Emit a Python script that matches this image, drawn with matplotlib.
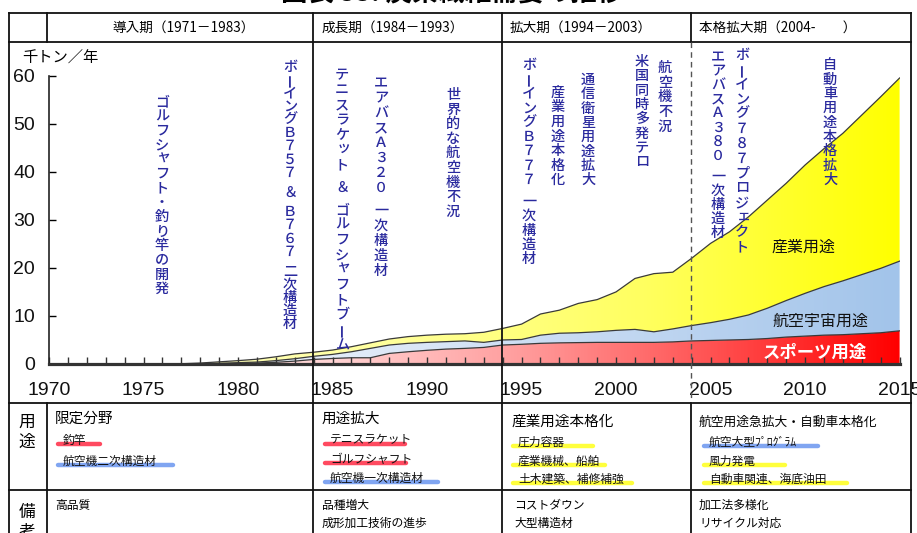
import numpy as np
import matplotlib
matplotlib.use("Agg")
import matplotlib.pyplot as plt
from matplotlib.colors import LinearSegmentedColormap
from matplotlib.lines import Line2D

plt.rcParams['font.family'] = ['Noto Sans CJK JP', 'DejaVu Sans']

# ---- data (thousand tonnes per year) ----
years = list(range(1971, 2016))
sports = [0, 0, 0, 0, 0, 0, 0,
          0.02, 0.05, 0.1, 0.2, 0.35, 0.6, 0.95,
          1.15, 1.3, 1.3, 2.2, 2.55, 2.85, 3.1, 3.25, 3.45, 3.95,
          4.1, 4.3, 4.4, 4.45, 4.5, 4.5, 4.5, 4.5, 4.6, 4.8,
          4.9, 5.0, 5.1, 5.3, 5.6, 5.8, 6.0, 6.1, 6.3, 6.5, 6.9]
aerospace = [0, 0, 0, 0, 0, 0, 0,
             0.05, 0.1, 0.18, 0.2, 0.35, 0.5, 0.65,
             0.85, 1.25, 1.95, 1.75, 1.75, 1.65, 1.55, 1.55, 1.05, 1.05,
             1.0, 1.7, 2.0, 2.05, 2.2, 2.5, 2.7, 2.2, 2.7, 3.2,
             3.7, 4.3, 5.1, 6.3, 7.6, 8.9, 10.1, 11.2, 12.3, 13.4, 14.5]
industrial = [0, 0, 0, 0, 0, 0, 0.05,
              0.13, 0.3, 0.42, 0.6, 0.8, 1.0, 0.85,
              0.9, 1.05, 1.15, 1.25, 1.4, 1.5, 1.55, 1.5, 2.1, 2.4,
              3.2, 4.4, 4.8, 6.1, 6.7, 8.0, 10.6, 12.1, 11.8, 14.0,
              16.5, 18.2, 20.4, 22.5, 24.4, 26.7, 28.7, 30.7, 33.2, 35.7, 38.1]

xticks = [1970, 1975, 1980, 1985, 1990, 1995, 2000, 2005, 2010, 2015]
yticks = [0, 10, 20, 30, 40, 50, 60]

periods = ["導入期（1971－1983）", "成長期（1984－1993）",
           "拡大期（1994－2003）", "本格拡大期（2004-　　）"]

W, H = 917, 533
fig = plt.figure(figsize=(W / 100, H / 100), dpi=100)
fig.patch.set_facecolor('white')


def fx(x):
    return x / W


def fy(y):
    return 1 - y / H


# ---- chart ----
x0, x1 = 49, 899.6
ytop, ybot = 75.6, 364
ax = fig.add_axes([fx(x0), fy(ybot), fx(x1) - fx(x0), fy(ytop) - fy(ybot)])
ax.set_xlim(1970, 2015)
ax.set_ylim(0, 60)

polys = ax.stackplot(years, sports, aerospace, industrial,
                     colors=['none', 'none', 'none'], linewidth=0)

grads = [
    [(0, '#fff0f0'), (0.33, '#ffd4d4'), (0.55, '#ff9e9e'), (0.78, '#ff5252'), (1, '#ff0000')],
    [(0, '#f3f7fd'), (0.33, '#e4edf9'), (0.6, '#cadcf3'), (1, '#a2c4ea')],
    [(0, '#ffffd0'), (0.35, '#ffffa4'), (0.7, '#ffff60'), (1, '#ffff00')],
]
gx = np.linspace(0, 1, 512).reshape(1, -1)
for poly, stops in zip(polys, grads):
    cmap = LinearSegmentedColormap.from_list('g', stops)
    im = ax.imshow(gx, cmap=cmap, extent=[1970, 2015, 0, 60], aspect='auto',
                   origin='lower', zorder=1, interpolation='bilinear')
    im.set_clip_path(poly.get_paths()[0], transform=ax.transData)

cum1 = np.array(sports)
cum2 = cum1 + np.array(aerospace)
cum3 = cum2 + np.array(industrial)
for c in (cum1, cum2, cum3):
    ax.plot(years, c, color='#3a3a3a', lw=0.9, zorder=3)

for s in ('top', 'right'):
    ax.spines[s].set_visible(False)
ax.spines['bottom'].set_linewidth(2.3)
ax.spines['bottom'].set_color('#333333')
ax.spines['left'].set_linewidth(1.2)
ax.spines['left'].set_color('#222222')
ax.spines['bottom'].set_zorder(4)

ax.set_xticks(xticks)
ax.set_xticks(range(1970, 2016), minor=True)
ax.set_yticks(yticks)
ax.tick_params(axis='x', which='both', direction='in', length=5, width=1,
               color='#333333', pad=13)
ax.tick_params(axis='y', direction='in', length=5, width=1, pad=10)
for lab in ax.get_xticklabels() + ax.get_yticklabels():
    lab.set_fontfamily(['Liberation Sans', 'DejaVu Sans'])
    lab.set_fontsize(14)
    lab.set_color('#111111')

# unit label
fig.text(fx(22), fy(58), "千トン／年", fontsize=11, ha='left', va='center')

# series labels inside the areas
fig.text(fx(803), fy(247), "産業用途", fontsize=11.5, ha='center', va='center', color='#111111')
fig.text(fx(820), fy(321), "航空宇宙用途", fontsize=11.5, ha='center', va='center', color='#111111')
fig.text(fx(815), fy(353), "スポーツ用途", fontsize=12.5, ha='center', va='center',
         color='white', fontweight='bold')

# ---- vertical event notes ----
NOTE = '#2a2a9e'
SMALL = 'ッャュョェァィ'


def vtext(x, y, s, pitch=14.5, size=10.2):
    for ch in s:
        if ch == ' ':
            y += pitch * 0.5
            continue
        rot = 90 if ch == 'ー' else 0
        dx, dy = (2, -2) if ch in SMALL else (0, 0)
        fig.text(fx(x + dx), fy(y + dy), ch, fontsize=size, color=NOTE,
                 ha='center', va='center', rotation=rot, fontweight='medium')
        y += pitch


vtext(162, 102, "ゴルフシャフト・釣り竿の開発", 14.4)
vtext(290, 67, "ボーイングＢ７５７ ＆ Ｂ７６７ 二次構造材", 13.2)
vtext(342, 75, "テニスラケット ＆ ゴルフシャフトブーム", 15.0)
vtext(381, 83, "エアバスＡ３２０ 一次構造材", 15.0)
vtext(453, 95, "世界的な航空機不況", 14.6)
vtext(529, 65, "ボーイングＢ７７７ 一次構造材", 14.4)
vtext(558, 93, "産業用途本格化", 14.5)
vtext(588, 80, "通信衛星用途拡大", 14.3)
vtext(642, 62, "米国同時多発テロ", 14.3)
vtext(665, 68, "航空機不況", 14.6)
vtext(718, 57, "エアバスＡ３８０ 一次構造材", 14.1)
vtext(742, 55, "ボーイング７８７プロジェクト", 14.8)
vtext(830, 65, "自動車用途本格拡大", 14.4)


# ---- table frame ----
def hline(y, xa, xb, **kw):
    fig.add_artist(Line2D([fx(xa), fx(xb)], [fy(y), fy(y)], color='#111111', lw=1.3, **kw))


def vline(x, ya, yb, **kw):
    kw.setdefault('color', '#111111')
    kw.setdefault('lw', 1.3)
    fig.add_artist(Line2D([fx(x), fx(x)], [fy(ya), fy(yb)], **kw))


hline(13, 9, 911)
hline(42, 9, 911)
hline(403, 9, 911)
hline(490, 9, 911)
vline(9, 13, 533)
vline(911, 13, 533)
vline(47, 13, 42)
vline(47, 403, 533)
vline(313, 13, 533)
vline(502, 13, 533)
vline(691, 13, 42)
vline(691, 42, 403, color='#555555', lw=1.0, linestyle=(0, (4, 3)))
vline(691, 403, 533)

# title (partly above the page edge)
fig.text(fx(452), fy(-6), "図表 33. 炭素繊維需要の推移", fontsize=19,
         fontweight='bold', ha='center', va='center')

# period header
hdr_x = [112, 322, 510, 699]
for x, t in zip(hdr_x, periods):
    fig.text(fx(x), fy(28), t, fontsize=9.8, ha='left', va='center')

# row headings
for ch, y in (("用", 422), ("途", 442), ("備", 512), ("考", 532)):
    fig.text(fx(27), fy(y), ch, fontsize=12, ha='center', va='center')

HL = {'r': '#ff2a44', 'b': '#6a96ef', 'y': '#ffff1a'}


def item(x, y, t, col, xend, size=8.5):
    fig.add_artist(Line2D([fx(x - 2), fx(xend)], [fy(y + 4), fy(y + 4)],
                          color=HL[col], lw=3.2, alpha=0.85, solid_capstyle='round'))
    fig.text(fx(x + 3), fy(y), t, fontsize=size, ha='left', va='center', color='#111111')


# usage row
fig.text(fx(55), fy(419), "限定分野", fontsize=10.5, ha='left', va='center')
item(60, 440, "釣竿", 'r', 100)
item(60, 461, "航空機二次構造材", 'b', 173)

fig.text(fx(322), fy(419), "用途拡大", fontsize=10.5, ha='left', va='center')
item(327, 440, "テニスラケット", 'r', 405)
item(327, 459, "ゴルフシャフト", 'r', 406)
item(327, 478, "航空機一次構造材", 'b', 438)

fig.text(fx(511), fy(422), "産業用途本格化", fontsize=10.5, ha='left', va='center')
item(515, 442, "圧力容器", 'y', 593)
item(515, 461, "産業機械、船舶", 'y', 605)
item(515, 479, "土木建築、補修補強", 'y', 632)

fig.text(fx(699), fy(422), "航空用途急拡大・自動車本格化", fontsize=9.2, ha='left', va='center')
item(706, 442, "航空大型ﾌﾟﾛｸﾞﾗﾑ", 'b', 818)
item(706, 461, "風力発電", 'y', 785)
item(706, 479, "自動車関連、海底油田", 'y', 847)

# remarks row
notes = [(55, ["高品質"]), (322, ["品種増大", "成形加工技術の進歩"]),
         (514, ["コストダウン", "大型構造材"]), (699, ["加工法多様化", "リサイクル対応"])]
for x, lines in notes:
    for i, t in enumerate(lines):
        fig.text(fx(x), fy(505 + 18 * i), t, fontsize=8.5, ha='left', va='center')

fig.savefig("out.png", dpi=100)
